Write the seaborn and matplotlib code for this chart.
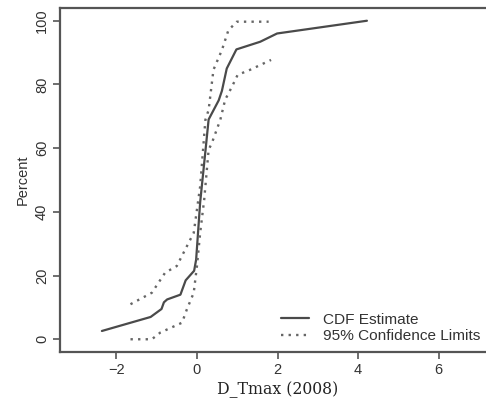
import matplotlib
matplotlib.use("Agg")
import matplotlib.pyplot as plt
import seaborn as sns
import pandas as pd
from matplotlib.lines import Line2D

# CDF estimate
cdf_x = [-2.36, -1.15, -0.88, -0.82, -0.74, -0.41, -0.28, -0.07, -0.02, 0.08, 0.21, 0.29, 0.54, 0.62, 0.74, 0.98, 1.57, 1.99, 4.22]
cdf_p = [2.6, 7.0, 9.5, 11.6, 12.5, 14.0, 18.5, 21.5, 25.0, 43.0, 59.0, 69.0, 75.0, 78.0, 85.0, 91.0, 93.4, 96.0, 100.0]

# upper 95% confidence limit
up_x = [-1.65, -1.12, -0.79, -0.50, -0.25, -0.08, 0.08, 0.21, 0.29, 0.41, 0.62, 0.78, 0.99, 1.78]
up_p = [11.0, 14.6, 20.9, 23.0, 29.2, 33.4, 48.0, 68.9, 72.0, 84.6, 90.8, 97.0, 99.7, 99.7]

# lower 95% confidence limit
lo_x = [-1.65, -1.12, -0.91, -0.37, -0.25, -0.08, 0.00, 0.08, 0.18, 0.29, 0.37, 0.58, 0.70, 0.87, 1.01, 1.32, 1.84]
lo_p = [0.0, 0.0, 2.1, 5.2, 9.4, 14.6, 23.0, 33.4, 43.8, 59.5, 61.6, 68.9, 75.2, 79.3, 83.0, 84.6, 87.7]

x_ticks = [-2, 0, 2, 4, 6]
y_ticks = [0, 20, 40, 60, 80, 100]
x_label = "D_Tmax (2008)"
y_label = "Percent"
legend_labels = ["CDF Estimate", "95% Confidence Limits"]

sns.set_style("white")
plt.rcParams['font.family'] = ['Liberation Sans', 'DejaVu Sans']

fig = plt.figure(figsize=(4.86, 4.09), dpi=100)
W, H = 486, 409
ax = fig.add_axes([60 / W, 1 - 352 / H, (495 - 60) / W, (352 - 8) / H])

line_col = "#4a4a4a"
dot_col = "#666666"
dots = (0, (1, 2.2))

df_cdf = pd.DataFrame({"x": cdf_x, "p": cdf_p})
df_up = pd.DataFrame({"x": up_x, "p": up_p})
df_lo = pd.DataFrame({"x": lo_x, "p": lo_p})

sns.lineplot(data=df_cdf, x="x", y="p", sort=False, estimator=None, ax=ax,
             color=line_col, linewidth=1.6)
sns.lineplot(data=df_up, x="x", y="p", sort=False, estimator=None, ax=ax,
             color=dot_col, linewidth=1.7, linestyle=dots)
sns.lineplot(data=df_lo, x="x", y="p", sort=False, estimator=None, ax=ax,
             color=dot_col, linewidth=1.7, linestyle=dots)

ax.set_xlim(-3.4, 7.4)
ax.set_ylim(-4, 104)
ax.set_xticks(x_ticks)
ax.set_yticks(y_ticks)
ax.set_xticklabels([str(t).replace("-", "\u2212") for t in x_ticks])
ax.set_yticklabels([str(t) for t in y_ticks], rotation=90, va="center")
ax.tick_params(axis="both", direction="out", length=5, width=1.2, color="#555555",
               labelsize=10.5, labelcolor="#333333", pad=3, bottom=True, left=True)

for s in ax.spines.values():
    s.set_color("#555555")
    s.set_linewidth(1.6)

ax.set_xlabel(x_label, family=["DejaVu Serif"], fontsize=11.3, color="#222222", labelpad=3)
ax.set_ylabel(y_label, fontsize=10.5, color="#333333", labelpad=4)

handles = [Line2D([], [], color=line_col, linewidth=1.6),
           Line2D([], [], color=dot_col, linewidth=1.7, linestyle=dots)]
ax.legend(handles, legend_labels, loc="lower left", frameon=False,
          bbox_to_anchor=(281 / W, 1 - 343 / H), bbox_transform=fig.transFigure,
          fontsize=11.1, handlelength=1.8, handletextpad=0.95, labelspacing=0.15,
          borderaxespad=0, borderpad=0, labelcolor="#333333")

fig.savefig("out.png", dpi=100)
